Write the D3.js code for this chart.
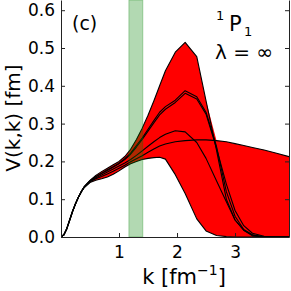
<!DOCTYPE html>
<html>
<head>
<meta charset="utf-8">
<script src="https://cdn.jsdelivr.net/npm/d3@7"></script>
<style>
  body { margin: 0; background: #fff; }
  text { font-family: "DejaVu Sans", sans-serif; fill: #000; }
</style>
</head>
<body>
<div id="chart"></div>
<script>
// momentum grid (fm^-1)
var kGrid = [0, 0.05, 0.1, 0.15, 0.2, 0.25, 0.3, 0.35, 0.4, 0.5, 0.6, 0.7, 0.8, 0.9, 1.0,
  1.1, 1.2, 1.3, 1.4, 1.5, 1.6, 1.7, 1.8, 1.97, 2.14, 2.34, 2.5, 2.68, 2.85, 3.0,
  3.15, 3.3, 3.5, 3.7, 3.95];

// diagonal matrix elements V(k,k) in fm, one list per curve
var curveA = [0, 0.006, 0.022, 0.045, 0.068, 0.088, 0.105, 0.12, 0.133, 0.150, 0.163, 0.173, 0.182, 0.191, 0.200,
  0.213, 0.232, 0.258, 0.288, 0.322, 0.360, 0.400, 0.440, 0.489, 0.515, 0.477, 0.360, 0.230, 0.100, 0.045,
  0.018, 0.005, 0, 0, 0];
var curveB = [0, 0.006, 0.022, 0.045, 0.068, 0.088, 0.105, 0.12, 0.133, 0.149, 0.160, 0.169, 0.178, 0.186, 0.195,
  0.207, 0.222, 0.242, 0.262, 0.285, 0.308, 0.330, 0.345, 0.362, 0.387, 0.371, 0.330, 0.240, 0.120, 0.055,
  0.020, 0.006, 0, 0, 0];
var curveC = [0, 0.006, 0.022, 0.045, 0.068, 0.088, 0.105, 0.12, 0.132, 0.148, 0.159, 0.168, 0.176, 0.185, 0.194,
  0.205, 0.219, 0.238, 0.258, 0.280, 0.302, 0.323, 0.338, 0.356, 0.380, 0.365, 0.325, 0.235, 0.140, 0.070,
  0.030, 0.010, 0.002, 0, 0];
var curveD = [0, 0.006, 0.022, 0.045, 0.068, 0.088, 0.105, 0.12, 0.132, 0.147, 0.156, 0.164, 0.172, 0.180, 0.188,
  0.196, 0.205, 0.216, 0.228, 0.240, 0.252, 0.263, 0.272, 0.281, 0.278, 0.250, 0.208, 0.149, 0.093, 0.045,
  0.018, 0.003, 0, 0, 0];
var curveE = [0, 0.006, 0.022, 0.045, 0.068, 0.088, 0.105, 0.12, 0.131, 0.146, 0.154, 0.160, 0.167, 0.174, 0.182,
  0.190, 0.199, 0.207, 0.215, 0.224, 0.233, 0.241, 0.246, 0.252, 0.255, 0.257, 0.257, 0.255, 0.252, 0.247,
  0.242, 0.237, 0.230, 0.222, 0.212];
var curveF = [0, 0.006, 0.022, 0.045, 0.068, 0.088, 0.105, 0.12, 0.131, 0.144, 0.150, 0.154, 0.159, 0.166, 0.175,
  0.185, 0.194, 0.200, 0.205, 0.208, 0.210, 0.211, 0.206, 0.165, 0.115, 0.048, 0.016, 0.004, 0.001, 0,
  0, 0, 0, 0, 0];

var curves = [curveA, curveB, curveC, curveD, curveE, curveF];

// shaded momentum window
var band = [1.17, 1.41];

var xTicks = [1, 2, 3];
var yTicks = [0, 0.1, 0.2, 0.3, 0.4, 0.5, 0.6];

var width = 291, height = 291;
var plotLeft = 61, plotRight = 289, plotTop = 0, plotBottom = 237;

var svg = d3.select("#chart")
  .append("svg")
  .attr("width", width)
  .attr("height", height);

var x = d3.scaleLinear().domain([0, 3.93]).range([plotLeft, plotRight]);
var y = d3.scaleLinear().domain([0, 0.627]).range([plotBottom, plotTop]);

svg.append("clipPath").attr("id", "plot")
  .append("rect")
  .attr("x", plotLeft).attr("y", plotTop)
  .attr("width", plotRight - plotLeft).attr("height", plotBottom - plotTop);

var plot = svg.append("g").attr("clip-path", "url(#plot)");

// envelope of all curves
var area = d3.area()
  .x(function(d, i) { return x(kGrid[i]); })
  .y0(function(d, i) { return y(d3.min(curves, function(c) { return c[i]; })); })
  .y1(function(d, i) { return y(d3.max(curves, function(c) { return c[i]; })); });

plot.append("path")
  .datum(kGrid)
  .attr("d", area)
  .attr("fill", "#ff0000");

var line = d3.line()
  .x(function(d, i) { return x(kGrid[i]); })
  .y(function(d) { return y(d); });

plot.selectAll(".curve")
  .data(curves)
  .enter()
  .append("path")
  .attr("class", "curve")
  .attr("d", line)
  .attr("fill", "none")
  .attr("stroke", "#000")
  .attr("stroke-width", 1.1)
  .attr("stroke-linejoin", "round");

plot.append("rect")
  .attr("x", x(band[0]))
  .attr("y", plotTop)
  .attr("width", x(band[1]) - x(band[0]))
  .attr("height", plotBottom - plotTop)
  .attr("fill", "rgb(0,128,0)")
  .attr("fill-opacity", 0.3)
  .attr("stroke", "rgb(0,128,0)")
  .attr("stroke-opacity", 0.3);

// axes, ticks pointing inward
var xAxis = svg.append("g")
  .attr("transform", "translate(0," + plotBottom + ")")
  .call(d3.axisBottom(x).tickValues(xTicks).tickSizeInner(-4).tickSizeOuter(0).tickPadding(9)
    .tickFormat(d3.format("d")));

var yAxis = svg.append("g")
  .attr("transform", "translate(" + plotLeft + ",0)")
  .call(d3.axisLeft(y).tickValues(yTicks).tickSizeInner(-4).tickSizeOuter(0).tickPadding(6)
    .tickFormat(d3.format(".1f")));

var yAxisRight = svg.append("g")
  .attr("transform", "translate(" + plotRight + ",0)")
  .call(d3.axisRight(y).tickValues(yTicks).tickSizeInner(-4).tickSizeOuter(0).tickFormat(""));

[xAxis, yAxis, yAxisRight].forEach(function(g) {
  g.selectAll("path.domain").attr("stroke", "#222");
  g.selectAll(".tick line").attr("stroke", "#222");
  g.selectAll("text").attr("font-size", 17).attr("font-family", "DejaVu Sans").attr("fill", "#000");
});

// axis titles
svg.append("text")
  .attr("transform", "translate(20," + 118 + ") rotate(-90)")
  .attr("text-anchor", "middle")
  .attr("font-size", 20)
  .text("V(k,k) [fm]");

var xl = svg.append("text")
  .attr("x", 184)
  .attr("y", 284)
  .attr("text-anchor", "middle")
  .attr("font-size", 21);
xl.append("tspan").text("k [fm");
xl.append("tspan").attr("font-size", 14).attr("dy", -9).text("\u22121");
xl.append("tspan").attr("dy", 9).text("]");

// annotations
svg.append("text")
  .attr("x", 72).attr("y", 30)
  .attr("font-size", 19)
  .text("(c)");

svg.append("text").attr("x", 216).attr("y", 20).attr("font-size", 13).text("1");
svg.append("text").attr("x", 229).attr("y", 31).attr("font-size", 21).text("P");
svg.append("text").attr("x", 244).attr("y", 36).attr("font-size", 13).text("1");

svg.append("text")
  .attr("x", 244).attr("y", 59)
  .attr("text-anchor", "middle")
  .attr("font-size", 20)
  .text("\u03bb = \u221e");
</script>
</body>
</html>
